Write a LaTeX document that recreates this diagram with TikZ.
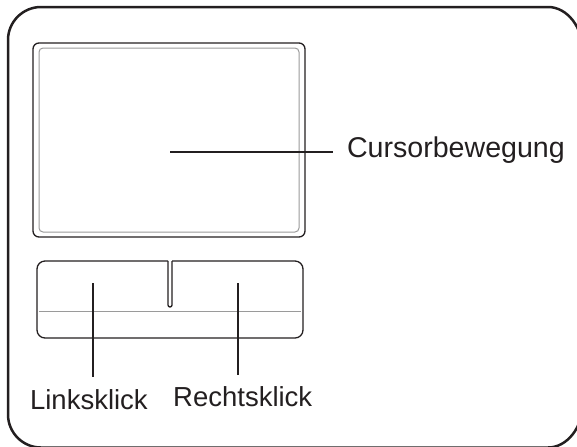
\documentclass[tikz,border=0pt]{standalone}
\usepackage{fontspec}
\setmainfont{Liberation Sans}
\usepackage{tikz}
\usetikzlibrary{positioning,calc}
\definecolor{ink}{HTML}{231F20}
\definecolor{rim}{HTML}{9A9A9A}

\begin{document}
\begin{tikzpicture}[
    x=0.5pt, y=-0.5pt,
    pad/.style={draw=ink, line width=0.65pt, rounded corners=3pt, inner sep=0pt,
                minimum width=136pt, minimum height=97pt},
    padrim/.style={draw=rim, line width=0.5pt, rounded corners=2pt, inner sep=0pt,
                minimum width=130pt, minimum height=92pt},
    lbl/.style={inner sep=0pt, anchor=base west, text=ink,
                font=\fontsize{13.75}{16}\selectfont},
    pointer/.style={draw=ink, line width=0.6pt}
]
    \useasboundingbox (0,0) rectangle (577,446);
    % outer frame, right side runs off the page
    \begin{scope}
    \clip (0,0) rectangle (577,446);
    \draw[ink, line width=1.25pt, line join=round]
        (41,7) -- (548,7) .. controls (567.3,7) and (583,27.4) .. (583,52)
        -- (583,402.5) .. controls (583,427.1) and (567.3,447.5) .. (548,447.5)
        -- (41,447.5) .. controls (22.8,447.5) and (8,432.7) .. (8,414.5)
        -- (8,40) .. controls (8,21.8) and (22.8,7) .. (41,7) -- cycle;
    \end{scope}

    % touchpad
    \node[pad] (pad) at (169,140) {};
    \node[padrim] (padin) at (169,140) {};
    \coordinate (touch) at (170,152);

    % buttons
    \draw[ink, line width=0.65pt, rounded corners=4pt]
        (168,261) -- (37,261) -- (37,338) -- (303,338) -- (303,261) -- (172,261);
    \draw[ink, line width=0.65pt, rounded corners=1pt]
        (168,261) -- (168,307) -- (172,307) -- (172,261);
    \draw[rim, line width=0.5pt] (39,311) -- (301,311);
    \coordinate (lclick) at (93,283);
    \coordinate (rclick) at (238,283);

    % labels
    \node[lbl, inner xsep=6.8pt, font=\fontsize{14.3}{16}\selectfont] (cursor) at (333,157) {Cursorbewegung};
    \node[lbl, inner ysep=6pt] (links) at (29.7,409) {Linksklick};
    \node[lbl, inner ysep=5.5pt] (rechts) at (172.8,406.7) {Rechtsklick};

    \draw[pointer] (touch) -- (touch -| cursor.west);
    \draw[pointer] (lclick) -- (lclick |- links.north);
    \draw[pointer] (rclick) -- (rclick |- rechts.north);
\end{tikzpicture}
\end{document}
